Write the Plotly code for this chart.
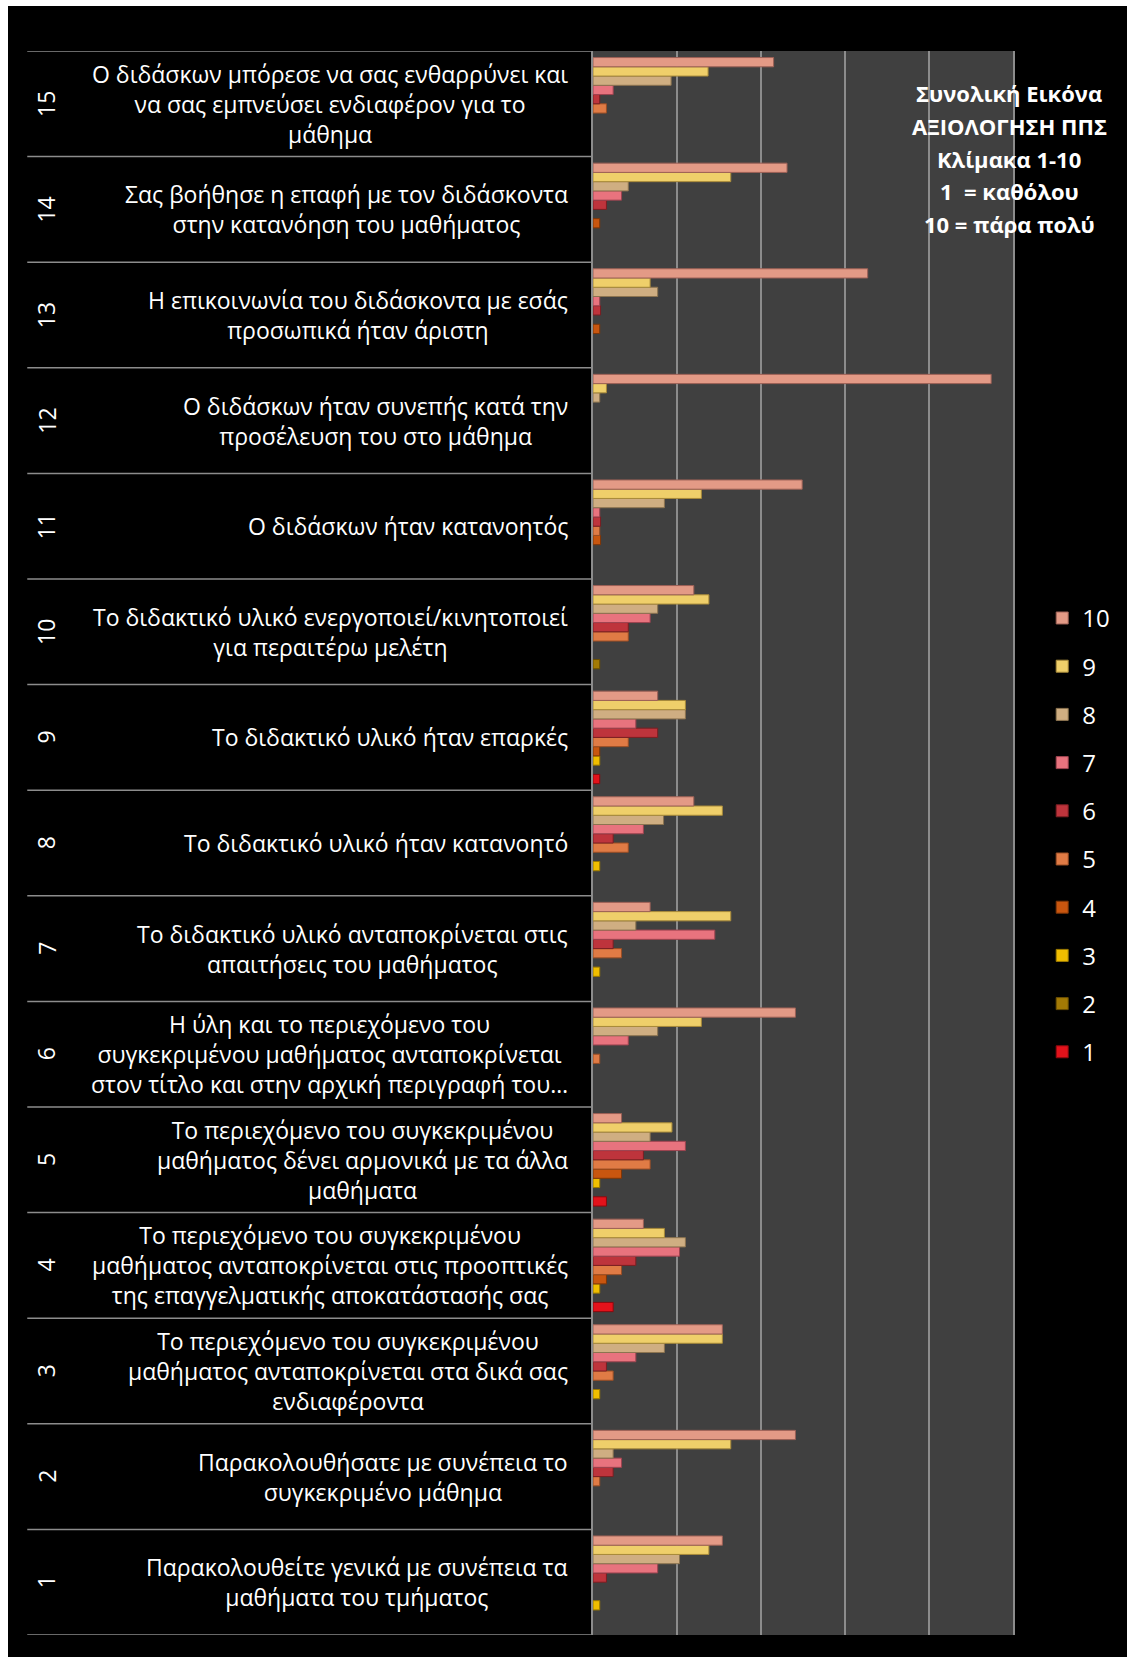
import plotly.graph_objects as go

# ---------------- data ----------------
questions = list(range(1, 16))
scores = ["1", "2", "3", "4", "5", "6", "7", "8", "9", "10"]

# values per score, for questions 1..15
s10 = [15.4, 24.1, 15.4, 6.0, 3.4, 24.1, 6.8, 12.0, 7.7, 12.0, 24.9, 47.4, 32.7, 23.1, 21.5]
s9 = [13.8, 16.4, 15.4, 8.5, 9.4, 12.9, 16.4, 15.4, 11.0, 13.8, 12.9, 1.6, 6.8, 16.4, 13.7]
s8 = [10.3, 2.4, 8.5, 11.0, 6.8, 7.7, 5.1, 8.4, 11.0, 7.7, 8.5, 0.8, 7.7, 4.2, 9.3]
s7 = [7.7, 3.4, 5.1, 10.3, 11.0, 4.2, 14.5, 6.0, 5.1, 6.8, 0.8, 0, 0.8, 3.4, 2.4]
s6 = [1.6, 2.4, 1.6, 5.1, 6.0, 0, 2.4, 2.4, 7.7, 4.2, 0.9, 0, 0.9, 1.6, 0.8]
s5 = [0, 0.8, 2.4, 3.4, 6.8, 0.8, 3.4, 4.2, 4.2, 4.2, 0.8, 0, 0, 0, 1.6]
s4 = [0, 0, 0, 1.6, 3.4, 0, 0, 0, 0.8, 0, 0.9, 0, 0.8, 0.8, 0]
s3 = [0.8, 0, 0.8, 0.8, 0.8, 0, 0.8, 0.8, 0.8, 0, 0, 0, 0, 0, 0]
s2 = [0, 0, 0, 0, 0, 0, 0, 0, 0, 0.8, 0, 0, 0, 0, 0]
s1 = [0, 0, 0, 2.4, 1.6, 0, 0, 0, 0.8, 0, 0, 0, 0, 0, 0]

series = [s1, s2, s3, s4, s5, s6, s7, s8, s9, s10]

labels = [
    "Παρακολουθείτε γενικά με συνέπεια τα<br>μαθήματα του τμήματος",
    "Παρακολουθήσατε με συνέπεια το<br>συγκεκριμένο μάθημα",
    "Το περιεχόμενο του συγκεκριμένου<br>μαθήματος ανταποκρίνεται στα δικά σας<br>ενδιαφέροντα",
    "Το περιεχόμενο του συγκεκριμένου<br>μαθήματος ανταποκρίνεται στις προοπτικές<br>της επαγγελματικής αποκατάστασής σας",
    "Το περιεχόμενο του συγκεκριμένου<br>μαθήματος δένει αρμονικά με τα άλλα<br>μαθήματα",
    "Η ύλη και το περιεχόμενο του<br>συγκεκριμένου μαθήματος ανταποκρίνεται<br>στον τίτλο και στην αρχική περιγραφή του…",
    "Το διδακτικό υλικό ανταποκρίνεται στις<br>απαιτήσεις του μαθήματος",
    "Το διδακτικό υλικό ήταν κατανοητό",
    "Το διδακτικό υλικό ήταν επαρκές",
    "Το διδακτικό υλικό ενεργοποιεί/κινητοποιεί<br>για περαιτέρω μελέτη",
    "Ο διδάσκων ήταν κατανοητός",
    "Ο διδάσκων ήταν συνεπής κατά την<br>προσέλευση του στο μάθημα",
    "Η επικοινωνία του διδάσκοντα με εσάς<br>προσωπικά ήταν άριστη",
    "Σας βοήθησε η επαφή με τον διδάσκοντα<br>στην κατανόηση του μαθήματος",
    "Ο διδάσκων μπόρεσε να σας ενθαρρύνει και<br>να σας εμπνεύσει ενδιαφέρον για το<br>μάθημα",
]

title_lines = ["Συνολική Εικόνα", "ΑΞΙΟΛΟΓΗΣΗ ΠΠΣ", "Κλίμακα 1-10", "1  = καθόλου", "10 = πάρα πολύ"]

colors = ["#E3121B", "#A37A05", "#F0BE00", "#C9560F", "#E07B45",
          "#BE343C", "#E8737E", "#CFAE82", "#EFCF6A", "#E39A86"]
edges = ["#8A0A0F", "#6A4F02", "#9C7A00", "#7E3608", "#9A4E25",
         "#7A1E22", "#9E4450", "#8C7450", "#A88A3A", "#9C6056"]

FONT = "Open Sans"

fig = go.Figure()
for sc, vals, col, ec in zip(scores, series, colors, edges):
    fig.add_trace(go.Bar(
        y=questions,
        x=[v if v > 0 else None for v in vals],
        orientation="h",
        name=sc,
        legendgroup=sc,
        legendrank=100 - int(sc),
        marker=dict(color=col, line=dict(color=ec, width=1)),
    ))

# category label table on the left
annotations = []
shapes = []
for q, lab in zip(questions, labels):
    annotations.append(dict(
        x=-0.054, y=q, xref="paper", yref="y", text=lab, showarrow=False,
        xanchor="right", yanchor="middle", align="center",
        font=dict(family=FONT, size=23, color="white")))
    annotations.append(dict(
        x=-1.302, y=q, xref="paper", yref="y", text=str(q), showarrow=False,
        xanchor="center", yanchor="middle", textangle=-90,
        font=dict(family=FONT, size=23, color="white")))
for b in range(0, 16):
    shapes.append(dict(type="line", xref="paper", yref="y",
                       x0=-1.347, x1=0, y0=b + 0.5, y1=b + 0.5,
                       line=dict(color="#8C8C8C", width=1.5)))

title_y = [87, 120, 153, 185, 218]
for t, fy in zip(title_lines, title_y):
    annotations.append(dict(
        x=0.9906, y=1 - (fy - 45) / 1584, xref="paper", yref="paper",
        text="<b>" + t + "</b>", showarrow=False, xanchor="center", yanchor="middle",
        font=dict(family=FONT, size=22, color="white")))

fig.update_layout(
    width=1119, height=1651,
    margin=dict(l=585, r=110, t=45, b=22, pad=0),
    paper_bgcolor="black", plot_bgcolor="#404040",
    barmode="group", bargap=0.124, bargroupgap=0,
    showlegend=True,
    legend=dict(traceorder="grouped", x=1.0695, y=0.656, xanchor="left", yanchor="top",
                font=dict(family=FONT, size=24, color="white"),
                bgcolor="rgba(0,0,0,0)", tracegroupgap=14),
    xaxis=dict(range=[0, 50], dtick=10, showticklabels=False, showgrid=True,
               gridcolor="#8C8C8C", gridwidth=1.5, zeroline=False, showline=False, ticks=""),
    yaxis=dict(range=[0.5, 15.5], showticklabels=False, showgrid=False, zeroline=False,
               showline=True, mirror=True, linecolor="#8C8C8C", linewidth=1.5, ticks=""),
    annotations=annotations,
    shapes=shapes,
    font=dict(family=FONT, color="white"),
)

fig.write_html(
    "out.html",
    post_script=("document.documentElement.style.overflow='hidden';"
                 "document.body.style.overflow='hidden';"
                 "document.body.style.margin='6px 0 0 8px';"),
)
